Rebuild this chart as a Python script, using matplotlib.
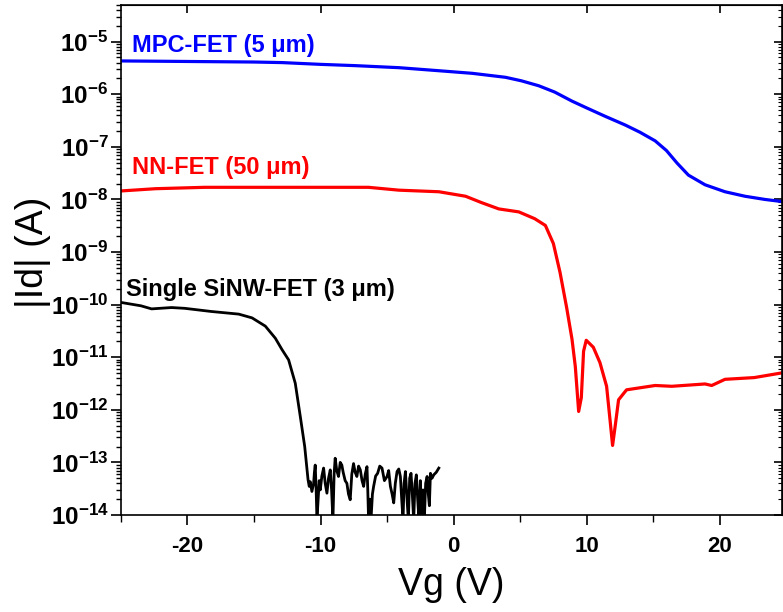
import matplotlib
matplotlib.use("Agg")
import matplotlib.pyplot as plt
from matplotlib.ticker import FixedLocator, FixedFormatter, LogLocator, MultipleLocator, NullFormatter

plt.rcParams['font.family'] = ['Liberation Sans', 'DejaVu Sans']
plt.rcParams['mathtext.fontset'] = 'custom'
plt.rcParams['mathtext.rm'] = 'Liberation Sans'
plt.rcParams['mathtext.bf'] = 'Liberation Sans:bold'
plt.rcParams['axes.unicode_minus'] = False

# MPC-FET (5 um)
mpc_vg = [-25, -20, -15, -12.9, -10, -7.4, -4.1, -1.1, 1.4, 3.9, 5.1, 6.4, 7.6, 8.9, 10.0,
          11.4, 12.9, 14.0, 15.15, 16.0, 16.8, 17.65, 18.9, 20.4, 21.9, 23.4, 25]
mpc_id = [4.3e-6, 4.2e-6, 4.1e-6, 4.0e-6, 3.7e-6, 3.5e-6, 3.2e-6, 2.8e-6, 2.5e-6, 2.1e-6,
          1.8e-6, 1.45e-6, 1.1e-6, 7.4e-7, 5.5e-7, 3.8e-7, 2.6e-7, 1.9e-7, 1.3e-7, 8.5e-8,
          4.9e-8, 2.9e-8, 1.9e-8, 1.4e-8, 1.15e-8, 1.0e-8, 8.9e-9]

# NN-FET (50 um)
nn_vg = [-25, -22.4, -18.7, -10, -6.4, -4.1, -1.1, 0.9, 2.1, 3.4, 4.9, 6.1, 6.9, 7.5, 8.0,
         8.5, 8.9, 9.15, 9.4, 9.6, 9.77, 9.97, 10.5, 11.0, 11.5, 11.77, 11.95, 12.15, 12.4,
         13.0, 15.15, 16.4, 18.9, 19.4, 20.4, 22.6, 25]
nn_id = [1.45e-8, 1.6e-8, 1.7e-8, 1.7e-8, 1.7e-8, 1.5e-8, 1.4e-8, 1.15e-8, 8.7e-9, 6.6e-9,
         5.8e-9, 4.3e-9, 3.2e-9, 1.45e-9, 4.1e-10, 8.7e-11, 2.2e-11, 6.6e-12, 9.3e-13,
         1.7e-12, 1.3e-11, 2.1e-11, 1.55e-11, 7.9e-12, 2.8e-12, 6.0e-13, 2.1e-13, 5.0e-13,
         1.55e-12, 2.4e-12, 2.9e-12, 2.8e-12, 3.1e-12, 2.9e-12, 3.8e-12, 4.1e-12, 5.2e-12]

# Single SiNW-FET (3 um)
sw_vg = [-25, -23.5, -22.7, -21.2, -20.2, -18.2, -16.15, -15.15, -14.15, -13.4, -12.9, -12.4,
         -11.9, -11.52, -11.19, -10.94, -10.85, -10.77, -10.65, -10.52, -10.46, -10.40,
         -10.33, -10.27, -10.18, -10.10, -10.02, -9.90, -9.77, -9.65, -9.52, -9.40, -9.27,
         -9.17, -9.07, -8.98, -8.90, -8.78, -8.65, -8.52, -8.40, -8.30, -8.15, -8.02,
         -7.90, -7.77, -7.65, -7.52, -7.40, -7.27, -7.14, -7.01, -6.88, -6.76, -6.64,
         -6.51, -6.45, -6.39, -6.30, -6.21, -6.10, -6.01, -5.86, -5.71, -5.55, -5.38,
         -5.20, -5.00, -4.88, -4.75, -4.62, -4.50, -4.38, -4.25, -4.12, -4.00, -3.90,
         -3.80, -3.72, -3.62, -3.50, -3.40, -3.30, -3.20, -3.12, -3.00, -2.90, -2.80,
         -2.70, -2.60, -2.50, -2.40, -2.30, -2.20, -2.10, -1.99, -1.90, -1.82, -1.74,
         -1.62, -1.49, -1.30, -1.11]
sw_id = [1.1e-10, 9.5e-11, 8.3e-11, 8.8e-11, 8.5e-11, 7.4e-11, 6.6e-11, 5.6e-11, 3.9e-11,
         2.3e-11, 1.4e-11, 8.9e-12, 3.2e-12, 7.4e-13, 2.0e-13, 4.7e-14, 3.5e-14, 4.3e-14,
         2.8e-14, 4.0e-14, 6.5e-14, 8.9e-14, 3.0e-14, 8e-15, 2.0e-14, 4.5e-14, 3.0e-14,
         5.5e-14, 7.8e-14, 4.0e-14, 2.6e-14, 5.0e-14, 7.2e-14, 3.0e-14, 8e-15, 6.0e-14,
         1.2e-13, 7.0e-14, 5.4e-14, 1.0e-13, 8.9e-14, 6.5e-14, 4.5e-14, 4.0e-14, 2.5e-14,
         1.95e-14, 6.0e-14, 9.5e-14, 6.5e-14, 5.4e-14, 8.5e-14, 7.2e-14, 4.5e-14, 3.5e-14,
         6.0e-14, 8.3e-14, 3.0e-14, 8e-15, 2.0e-14, 8e-15, 2.5e-14, 3.5e-14, 5.5e-14,
         6.2e-14, 8.5e-14, 7.8e-14, 4.5e-14, 5.4e-14, 7.0e-14, 3.5e-14, 2.5e-14, 1.7e-14,
         4.0e-14, 6.7e-14, 7.5e-14, 5.4e-14, 2.0e-14, 8e-15, 4.0e-14, 6.7e-14, 2.0e-14,
         8e-15, 5.0e-14, 6.2e-14, 3.0e-14, 8e-15, 4.0e-14, 5.8e-14, 2.0e-14, 8e-15,
         4.5e-14, 8e-15, 3.0e-14, 8e-15, 4.0e-14, 5.4e-14, 2.5e-14, 1.5e-14, 6.2e-14,
         5.0e-14, 5.8e-14, 6.5e-14, 7.8e-14]

decades = list(range(-14, -4))
ytick_labels = [r'$\mathbf{10^{%d}}$' % d for d in decades]

fig = plt.figure(figsize=(7.83, 6.12), dpi=100)
ax = fig.add_axes([0.1545, 0.1585, 0.8445, 0.8335])

ax.plot(mpc_vg, mpc_id, color='#0000ff', lw=2.3)
ax.plot(nn_vg, nn_id, color='#ff0000', lw=2.3)
ax.plot(sw_vg, sw_id, color='black', lw=2.0)

ax.set_yscale('log')
ax.set_xlim(-25, 24.7)
ax.set_ylim(1e-14, 5e-5)

ax.yaxis.set_major_locator(FixedLocator([10.0 ** d for d in decades]))
ax.yaxis.set_major_formatter(FixedFormatter(ytick_labels))
ax.yaxis.set_minor_locator(LogLocator(base=10, subs=range(2, 10), numticks=30))
ax.yaxis.set_minor_formatter(NullFormatter())
ax.xaxis.set_major_locator(MultipleLocator(10))
ax.xaxis.set_minor_locator(MultipleLocator(5))

ax.tick_params(axis='both', which='major', direction='out', length=7, width=1.2,
               top=False, right=False)
ax.tick_params(axis='both', which='minor', direction='out', length=3.5, width=1.0,
               top=False, right=False)
ax.tick_params(axis='x', which='minor', length=5)
ax.tick_params(axis='x', labelsize=16, pad=8)
ax.tick_params(axis='y', labelsize=17.5, pad=2)
for lab in ax.get_xticklabels():
    lab.set_fontweight('bold')

# mirrored ticks pointing inward on top and right
sec_x = ax.secondary_xaxis('top')
sec_x.xaxis.set_major_locator(MultipleLocator(10))
sec_x.tick_params(direction='in', length=6, width=1.2, labeltop=False)
sec_y = ax.secondary_yaxis('right')
sec_y.yaxis.set_major_locator(FixedLocator([10.0 ** d for d in decades]))
sec_y.yaxis.set_minor_locator(LogLocator(base=10, subs=range(2, 10), numticks=30))
sec_y.yaxis.set_minor_formatter(NullFormatter())
sec_y.tick_params(which='major', direction='in', length=6, width=1.2, labelright=False)
sec_y.tick_params(which='minor', direction='in', length=3, width=0.8)

for sp in ax.spines.values():
    sp.set_linewidth(1.2)

ax.text(-24.2, 6.4e-6, 'MPC-FET (5 μm)', color='#0000ff', fontsize=17, fontweight='bold')
ax.text(-24.2, 3.0e-8, 'NN-FET (50 μm)', color='#ff0000', fontsize=17, fontweight='bold')
ax.text(-24.6, 1.44e-10, 'Single SiNW-FET (3 μm)', color='black', fontsize=17, fontweight='bold')

fig.text(33 / 783, 1 - 252 / 612, '|Id| (A)', rotation=90, fontsize=27,
         ha='center', va='center')
fig.text(451 / 783, 1 - 585 / 612, 'Vg (V)', fontsize=27, ha='center', va='center')

fig.savefig('out.png', dpi=100)
